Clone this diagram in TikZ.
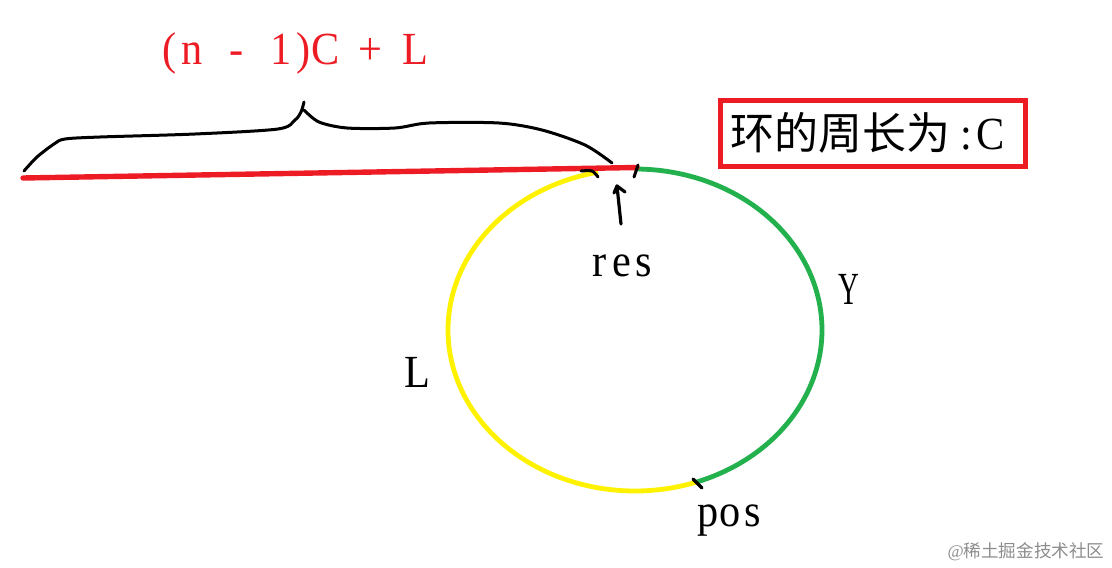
\documentclass[tikz,border=0pt]{standalone}
\usepackage{fontspec}
\setmainfont{Liberation Serif}
\newfontfamily\cjk{Noto Sans CJK SC}
\newfontfamily\narrowserif[FakeStretch=0.92]{Liberation Serif}
\definecolor{inkred}{HTML}{ED1C24}
\definecolor{inkgreen}{HTML}{22B14C}
\definecolor{inkyellow}{HTML}{FFF200}
\newcommand{\mc}[1]{\makebox[22.4pt][c]{#1}}
\tikzset{
  pen/.style={black,line width=3pt,line cap=round,line join=round},
  label text/.style={inner sep=0pt,font=\narrowserif\fontsize{46}{46}\selectfont,text=black},
  ring/.style={line width=4.8pt}
}
\begin{document}
\begin{tikzpicture}[x=1pt,y=-1pt]
\useasboundingbox (0,0) rectangle (1112,568);
% ring
\coordinate (c) at (635,330);
\draw[ring,inkyellow] plot[domain=101.4:289.4,samples=100,smooth] ({635+187*cos(\x)},{330-161*sin(\x)});
\draw[ring,inkgreen] plot[domain=90:-70.6,samples=100,smooth] ({635+187*cos(\x)},{330-161*sin(\x)});
% tail
\coordinate (tailA) at (23,178);
\coordinate (tailB) at (637,167.5);
\draw[inkred,line width=5.4pt,line cap=round] (tailA) -- (tailB);
% brace
\draw[pen] plot[smooth,tension=0.5] coordinates {(24,171) (37,157) (54,144) (65,139) (100,137) (195,134) (278,129) (295,120) (301,112) (304,102)};
\draw[pen] plot[smooth,tension=0.5] coordinates {(304,110) (319,122) (347,128) (395,128) (429,123) (499,123) (542,130) (585,145) (612,163)};
% ticks
\draw[pen] plot[smooth,tension=0.5] coordinates {(581,171) (592,171) (598,177)};
\coordinate (tickA) at (638,165); \coordinate (tickB) at (634,177);
\draw[pen] (tickA) -- (tickB);
\coordinate (posA) at (693,479); \coordinate (posB) at (702,488);
\draw[pen,line width=3.4pt] (posA) -- (posB);
% arrow
\coordinate (arrA) at (621,224); \coordinate (arrB) at (617,186);
\draw[pen,line width=3.2pt] (arrA) -- (arrB);
\coordinate (arrL) at (614,193); \coordinate (arrR) at (625,192);
\draw[pen,line width=3.2pt] (arrL) -- (arrB) -- (arrR);
% box
\node[draw=inkred,line width=4.6pt,minimum width=305.5pt,minimum height=66.5pt,inner sep=0pt] (box) at (873,133.5) {};
\node[anchor=west,inner sep=0pt,font=\fontsize{44}{44}\selectfont] (boxtext) at (730,133) {\cjk 环的周长为\rlap{\hspace{10pt}\narrowserif\fontsize{46}{46}\selectfont:\hspace{5pt}C}};
% labels
\node[label text,text=inkred] (formula) at (292.5,53) {\mc{(}\mc{n}\mc{ }\mc{-}\mc{ }\mc{1}\mc{)}\mc{C}\mc{ }\mc{+}\mc{ }\mc{L}};
\node[label text] (res) at (621.5,266) {\mc{r}\mc{e}\mc{s}};
\node[label text] (pos) at (730,521) {\mc{p}\mc{o}\mc{s}};
\node[label text] (L) at (417,372) {L};
\node[label text] (Y) at (849,289) {\scalebox{0.68}[1]{Y}};
\node[inner sep=0pt,text=black!45,font=\fontsize{17.6}{17.6}\selectfont] (mark) at (1026,552) {@\cjk 稀土掘金技术社区};
\end{tikzpicture}
\end{document}
